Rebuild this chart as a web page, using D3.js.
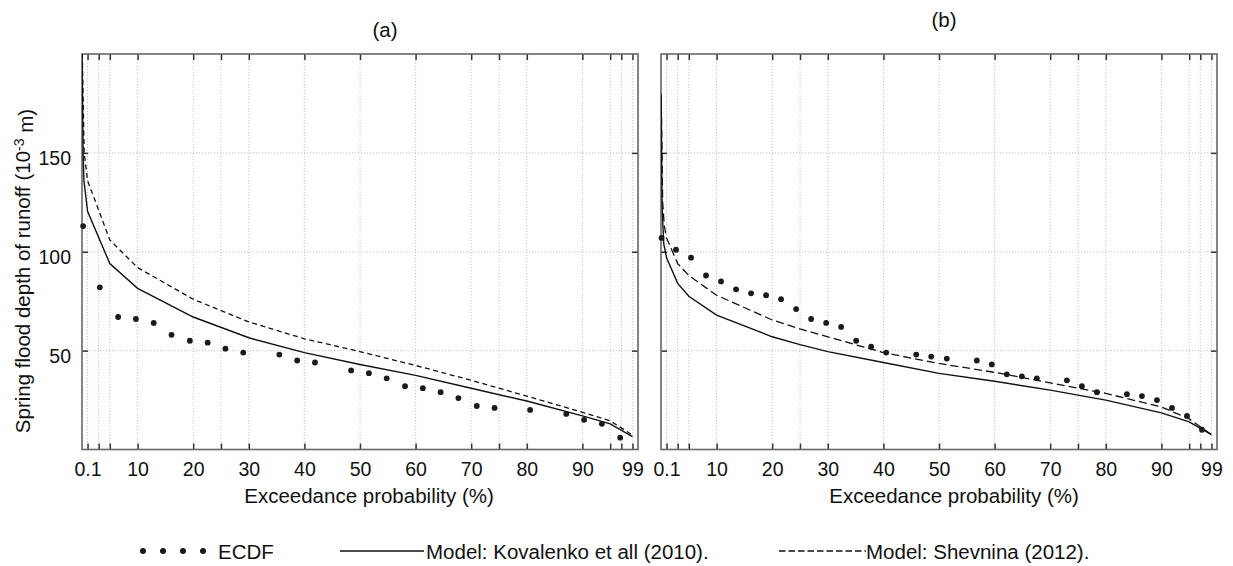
<!DOCTYPE html>
<html lang="en">
<head>
<meta charset="utf-8">
<title>Spring flood depth of runoff</title>
<script src="https://d3js.org/d3.v7.min.js"></script>
<style>
  body { margin: 0; background: #fff; }
  svg text { font-family: "Liberation Sans", Arial, Helvetica, sans-serif; fill: #111; }
  .grid line { stroke: #c4c4c4; stroke-width: 1; stroke-dasharray: 1.2,1.8; }
  .tick line { stroke: #333; stroke-width: 1.5; }
  .domain { display: none; }
</style>
</head>
<body>
<script>
// x ticks (plotting position) and labels
var tickPos = [1, 3, 5, 10, 20, 25, 30, 40, 50, 60, 70, 75, 80, 90, 95, 97, 99];
var labelPos = [1, 10, 20, 30, 40, 50, 60, 70, 80, 90, 99];
var labelText = ["0.1", "10", "20", "30", "40", "50", "60", "70", "80", "90", "99"];
var yTicks = [50, 100, 150];

// panel (a)
var ecdfA_p = [0.2, 3.2, 6.5, 9.7, 12.9, 16.1, 19.4, 22.6, 25.8, 29.0, 35.5, 38.7, 41.9, 48.4, 51.6, 54.8, 58.1, 61.3, 64.5, 67.7, 71.0, 74.2, 80.6, 87.1, 90.3, 93.5, 96.8];
var ecdfA_v = [113, 82, 67, 66, 64, 58, 55, 54, 51, 49, 48, 45, 44, 40, 38.6, 36, 32, 31, 29, 26, 22, 21, 20, 18, 15, 13, 6];
var kovA_p = [0.02, 0.2, 0.35, 1, 5, 10, 20, 30, 40, 50, 60, 70, 80, 90, 95, 99];
var kovA_v = [200, 150, 136, 120.5, 94, 81.5, 67, 56.5, 49, 43, 37.5, 31, 24.5, 17, 13, 6.5];
var shevA_p = [0.05, 0.4, 1, 5, 10, 20, 30, 40, 50, 60, 70, 80, 90, 95, 99];
var shevA_v = [200, 150, 136, 106, 92, 76, 64.5, 56, 49.5, 42.5, 35, 27, 18.8, 14.5, 7.3];

// panel (b)
var ecdfB_p = [0.1, 2.7, 5.4, 8.1, 10.8, 13.5, 16.2, 18.9, 21.6, 24.3, 27.0, 29.7, 32.4, 35.1, 37.8, 40.5, 45.9, 48.6, 51.4, 56.8, 59.5, 62.2, 64.9, 67.6, 73.0, 75.7, 78.4, 83.8, 86.5, 89.2, 91.9, 94.6, 97.3];
var ecdfB_v = [107, 101, 97, 88, 85, 81, 79, 78, 76, 71, 66, 64, 62, 55, 52, 49, 48, 47, 46, 45, 43, 38, 37, 36, 35, 32, 29, 28, 27, 25, 21, 17, 10];
var kovB_p = [0.03, 0.2, 0.5, 1, 3, 5, 10, 20, 25, 30, 40, 50, 60, 70, 80, 90, 95, 99];
var kovB_v = [178, 122, 104, 97, 84, 77.5, 68, 57, 53, 49.5, 44, 38.5, 34.5, 30, 25, 18.5, 14, 7.5];
var shevB_p = [0.03, 0.3, 0.6, 1, 3, 5, 10, 20, 25, 30, 40, 50, 60, 70, 80, 90, 95, 99];
var shevB_v = [180, 125, 113, 107, 94, 88, 78, 65.5, 61, 57, 49, 43.5, 39, 33.7, 28.4, 21.5, 15.5, 7.5];

var W = 1233, H = 566;
var plotTop = 54, plotBottom = 449.5;

var svg = d3.select("body").append("svg")
    .attr("width", W)
    .attr("height", H);

var y = d3.scaleLinear().domain([0, 200]).range([plotBottom, plotTop]);

function zip(ps, vs) {
  return ps.map(function(p, i) { return [p, vs[i]]; });
}

function panel(opts) {
  var x = d3.scaleLinear().domain([0, 100]).range([opts.left, opts.right]);
  var g = svg.append("g");
  var clipId = "clip" + opts.name;

  svg.append("clipPath").attr("id", clipId)
    .append("rect")
    .attr("x", opts.left).attr("y", plotTop)
    .attr("width", opts.right - opts.left).attr("height", plotBottom - plotTop);

  // grid
  var grid = g.append("g").attr("class", "grid");
  grid.selectAll("line.v").data(tickPos).enter().append("line")
    .attr("x1", function(d) { return x(d); }).attr("x2", function(d) { return x(d); })
    .attr("y1", plotTop).attr("y2", plotBottom);
  grid.selectAll("line.h").data(yTicks).enter().append("line")
    .attr("x1", opts.left).attr("x2", opts.right)
    .attr("y1", function(d) { return y(d); }).attr("y2", function(d) { return y(d); });

  // ticks, inward on all four sides
  var fmt = function(d) {
    var i = labelPos.indexOf(d);
    return i < 0 ? "" : labelText[i];
  };
  g.append("g").attr("transform", "translate(0," + plotBottom + ")")
    .call(d3.axisBottom(x).tickValues(tickPos).tickSize(-6).tickFormat(fmt).tickPadding(13))
    .selectAll("text").style("font-size", "19.5px");
  g.append("g").attr("transform", "translate(0," + plotTop + ")")
    .call(d3.axisTop(x).tickValues(tickPos).tickSize(-6).tickFormat(""));
  var yl = g.append("g").attr("transform", "translate(" + opts.left + ",0)")
    .call(d3.axisLeft(y).tickValues(yTicks).tickSize(-6)
      .tickFormat(opts.yLabels ? d3.format("d") : "").tickPadding(11));
  yl.selectAll("text").style("font-size", "19.5px").attr("dy", "0.62em");
  g.append("g").attr("transform", "translate(" + opts.right + ",0)")
    .call(d3.axisRight(y).tickValues(yTicks).tickSize(-6).tickFormat(""));

  // frame
  g.append("rect")
    .attr("x", opts.left).attr("y", plotTop)
    .attr("width", opts.right - opts.left).attr("height", plotBottom - plotTop)
    .attr("fill", "none").attr("stroke", "#666").attr("stroke-width", 1.6);

  var line = d3.line()
    .x(function(d) { return x(d[0]); })
    .y(function(d) { return y(d[1]); });

  var curves = g.append("g").attr("clip-path", "url(#" + clipId + ")");
  curves.append("path")
    .datum(zip(opts.kovP, opts.kovV))
    .attr("d", line)
    .attr("fill", "none").attr("stroke", "#111").attr("stroke-width", 1.4);
  curves.append("path")
    .datum(zip(opts.shevP, opts.shevV))
    .attr("d", line)
    .attr("fill", "none").attr("stroke", "#111").attr("stroke-width", 1.3)
    .attr("stroke-dasharray", opts.dash);

  g.selectAll("circle.pt").data(zip(opts.ecdfP, opts.ecdfV)).enter().append("circle")
    .attr("cx", function(d) { return x(d[0]); })
    .attr("cy", function(d) { return y(d[1]); })
    .attr("r", 2.9)
    .attr("fill", "#1a1a1a");

  // titles
  svg.append("text")
    .attr("x", opts.titleX).attr("y", opts.titleY)
    .attr("text-anchor", "middle").style("font-size", "20.5px")
    .text(opts.title);
  svg.append("text")
    .attr("x", opts.xTitleX).attr("y", 503)
    .attr("text-anchor", "middle").style("font-size", "20.5px")
    .text("Exceedance probability (%)");
}

panel({
  name: "a", left: 82, right: 638, yLabels: true,
  ecdfP: ecdfA_p, ecdfV: ecdfA_v, kovP: kovA_p, kovV: kovA_v,
  shevP: shevA_p, shevV: shevA_v, dash: "5,3.5",
  title: "(a)", titleX: 385, titleY: 37, xTitleX: 369
});
panel({
  name: "b", left: 661, right: 1217, yLabels: false,
  ecdfP: ecdfB_p, ecdfV: ecdfB_v, kovP: kovB_p, kovV: kovB_v,
  shevP: shevB_p, shevV: shevB_v, dash: "8,4",
  title: "(b)", titleX: 944, titleY: 27, xTitleX: 954
});

// y axis title
var yt = svg.append("text")
  .attr("transform", "translate(30,271) rotate(-90)")
  .attr("text-anchor", "middle")
  .style("font-size", "20.5px");
yt.append("tspan").text("Spring flood depth of runoff (10");
yt.append("tspan").attr("dy", "-0.45em").style("font-size", "14px").text("-3");
yt.append("tspan").attr("dy", "0.45em").text(" m)");

// legend
var ly = 551;
var lg = svg.append("g");
lg.selectAll("circle").data([0, 1, 2, 3]).enter().append("circle")
  .attr("cx", function(d) { return 143 + d * 20; })
  .attr("cy", ly).attr("r", 3).attr("fill", "#1a1a1a");
lg.append("text").attr("x", 218).attr("y", ly + 7.5).style("font-size", "20.5px").text("ECDF");
lg.append("line").attr("x1", 340).attr("x2", 424).attr("y1", ly).attr("y2", ly)
  .attr("stroke", "#111").attr("stroke-width", 1.4);
lg.append("text").attr("x", 426).attr("y", ly + 7.5).style("font-size", "20.5px")
  .text("Model: Kovalenko et all (2010).");
lg.append("line").attr("x1", 779).attr("x2", 866).attr("y1", ly).attr("y2", ly)
  .attr("stroke", "#111").attr("stroke-width", 1.3).attr("stroke-dasharray", "6.5,3");
lg.append("text").attr("x", 866).attr("y", ly + 7.5).style("font-size", "20.5px")
  .text("Model: Shevnina (2012).");
</script>
</body>
</html>
